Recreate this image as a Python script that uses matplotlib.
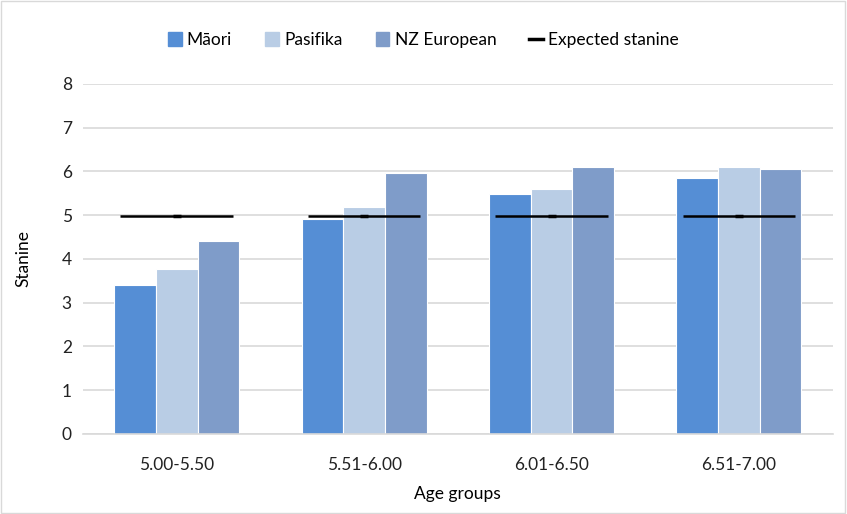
import matplotlib
matplotlib.use('Agg')
import matplotlib.pyplot as plt
from matplotlib.lines import Line2D
from matplotlib.patches import Patch
import numpy as np

plt.rcParams['font.family'] = ['Lato', 'DejaVu Sans']

age_groups = ['5.00-5.50', '5.51-6.00', '6.01-6.50', '6.51-7.00']
maori = [3.41, 4.91, 5.49, 5.85]
pasifika = [3.77, 5.19, 5.60, 6.10]
nz_european = [4.41, 5.97, 6.10, 6.06]
expected = [4.97, 4.97, 4.97, 4.97]

colors = {'Māori': '#558ed5', 'Pasifika': '#b9cde5', 'NZ European': '#7f9cc9'}

fig = plt.figure(figsize=(8.47, 5.14), dpi=100)
ax = fig.add_axes([0.098, 0.156, 0.885, 0.681])

x = np.arange(len(age_groups))
w = 0.222
series = [('Māori', maori), ('Pasifika', pasifika), ('NZ European', nz_european)]
for i, (name, vals) in enumerate(series):
    ax.bar(x + (i - 1) * w, vals, width=w, color=colors[name], edgecolor='white',
           linewidth=0.8, zorder=2)

# expected stanine drawn as a short marker with a wide horizontal bar
ax.errorbar(x, expected, xerr=0.3, fmt='_', color='black', markersize=6, mew=2.5,
            elinewidth=1.8, capsize=0, zorder=3)

ax.set_xlim(-0.5, 3.5)
ax.set_ylim(0, 8)
ax.set_yticks(range(0, 9))
ax.set_xticks(x)
ax.set_xticklabels(age_groups)
ax.tick_params(axis='both', length=0, labelsize=12.5, colors='#222222')
ax.tick_params(axis='y', pad=8)
ax.tick_params(axis='x', pad=17)
ax.yaxis.grid(True, color='#d9d9d9', linewidth=1.2, zorder=0)
ax.set_axisbelow(True)
for s in ['top', 'right', 'left']:
    ax.spines[s].set_visible(False)
ax.spines['bottom'].set_color('#d9d9d9')
ax.spines['bottom'].set_linewidth(1.2)

ax.set_ylabel('Stanine', fontsize=12.5, labelpad=22)
ax.set_xlabel('Age groups', fontsize=12.5, labelpad=9)

handles = [Patch(color=colors[n]) for n, _ in series] + [Line2D([], [], color='black', linewidth=2.5)]
labels = [n for n, _ in series] + ['Expected stanine']
fig.legend(handles, labels, loc='center', bbox_to_anchor=(0.5, 0.922), ncol=4,
           frameon=False, fontsize=12.5, handlelength=0.8, handleheight=0.8,
           handletextpad=0.3, columnspacing=1.9)

fig.patches.append(plt.Rectangle((0.001, 0.001), 0.997, 0.997, transform=fig.transFigure,
                                 fill=False, edgecolor='#d9d9d9', linewidth=1))

plt.savefig('out.png', dpi=100)
